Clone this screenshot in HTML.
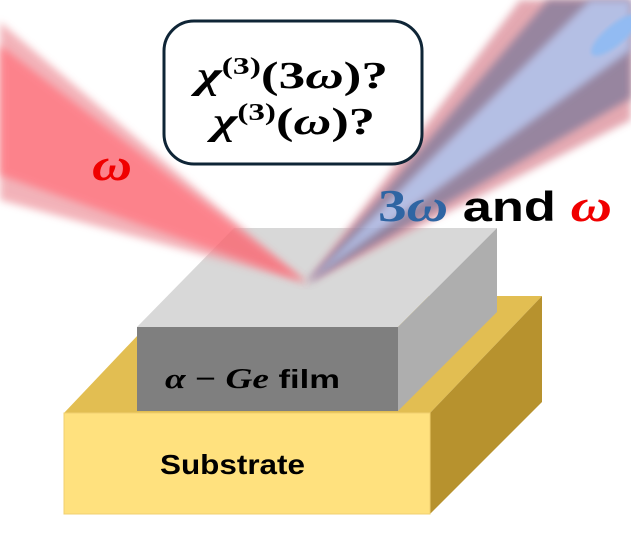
<!DOCTYPE html>
<html><head><style>body{margin:0;background:#fff}svg{display:block}</style></head><body>
<svg width="631" height="535" viewBox="0 0 631 535" xmlns="http://www.w3.org/2000/svg">
<defs>
<filter id="b" x="-20%" y="-20%" width="140%" height="140%"><feGaussianBlur stdDeviation="4"/></filter>
<filter id="b2"><feGaussianBlur stdDeviation="2"/></filter>
</defs>
<polygon points="64,413 175,296 542,296 430,413" fill="#E2BE52"/>
<polygon points="430,413 542,296 542,402 430,514" fill="#B7922E"/>
<rect x="64" y="413" width="366" height="101" fill="#FFE17E" stroke="#F0D070" stroke-width="1"/>
<polygon points="137,327 234,228 497,228 398,327" fill="#D8D8D8"/>
<polygon points="398,327 497,228 497,312 398,411" fill="#AEAEAE"/>
<rect x="137" y="327" width="261" height="84" fill="#7F7F7F"/>
<g opacity="0.8">
<polygon points="0,22 307,283 0,200" fill="#f0a0a8" filter="url(#b)"/>
<polygon points="0,45 307,283 0,175" fill="#ff5a66" filter="url(#b)" opacity="0.85"/>
</g>
<g opacity="0.85">
<polygon points="520,0 307,283 631,120 631,0" fill="#e09aa4" filter="url(#b)"/>
<polygon points="548,0 307,283 631,98 631,0" fill="#85708f" filter="url(#b)"/>
<polygon points="590,0 307,283 631,50 631,0" fill="#a8b4e0" filter="url(#b)"/>
<ellipse cx="615" cy="35" rx="30" ry="10" transform="rotate(-40 615 35)" fill="#7fb0f0" filter="url(#b2)"/>
</g>
<rect x="164" y="21" width="258" height="143" rx="30" fill="#fff" stroke="#0f2536" stroke-width="3"/>
<text x="197" y="88" textLength="191" lengthAdjust="spacingAndGlyphs" font-family="Liberation Serif,serif" font-weight="bold" font-size="38" fill="#000"><tspan font-style="italic">χ</tspan><tspan font-size="24" dy="-14">(3)</tspan><tspan dy="14">(3</tspan><tspan font-style="italic">ω</tspan>)?</text>
<text x="213" y="134" textLength="162" lengthAdjust="spacingAndGlyphs" font-family="Liberation Serif,serif" font-weight="bold" font-size="38" fill="#000"><tspan font-style="italic">χ</tspan><tspan font-size="24" dy="-14">(3)</tspan><tspan dy="14">(</tspan><tspan font-style="italic">ω</tspan>)?</text>
<text x="92" y="180" textLength="40" lengthAdjust="spacingAndGlyphs" font-family="Liberation Serif,serif" font-weight="bold" font-style="italic" font-size="46" fill="#f00000">ω</text>
<text x="378" y="221" textLength="234" lengthAdjust="spacingAndGlyphs" font-family="Liberation Sans,sans-serif" font-weight="bold" font-size="42"><tspan font-family="Liberation Serif,serif" font-size="46" fill="#2f65a3">3</tspan><tspan font-family="Liberation Serif,serif" font-size="46" font-style="italic" fill="#2f65a3">ω</tspan><tspan fill="#000"> and </tspan><tspan font-family="Liberation Serif,serif" font-size="46" font-style="italic" fill="#f00000">ω</tspan></text>
<text x="165" y="388" textLength="175" lengthAdjust="spacingAndGlyphs" font-family="Liberation Serif,serif" font-weight="bold" font-size="28" fill="#000"><tspan font-style="italic">α</tspan> − <tspan font-style="italic">Ge</tspan><tspan font-family="Liberation Sans,sans-serif" font-size="26"> film</tspan></text>
<text x="160" y="474" textLength="145" lengthAdjust="spacingAndGlyphs" font-family="Liberation Sans,sans-serif" font-weight="bold" font-size="28" fill="#000">Substrate</text>
</svg>
</body></html>
